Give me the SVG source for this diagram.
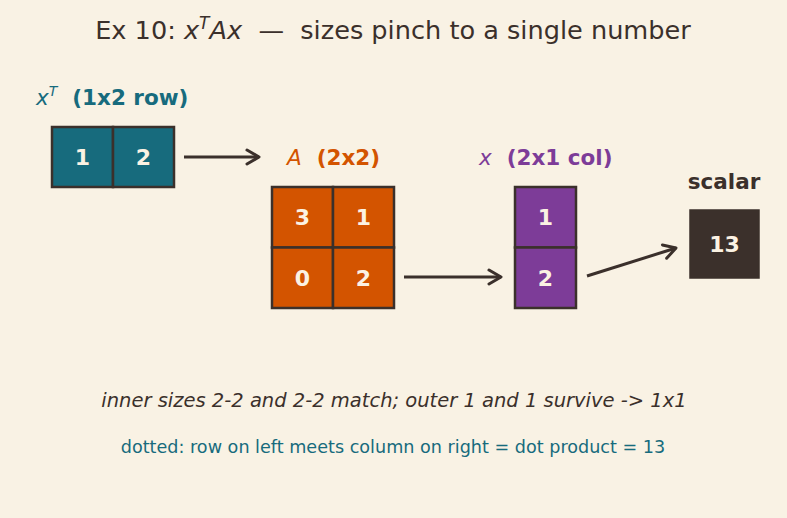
<svg xmlns="http://www.w3.org/2000/svg" width="787" height="518" viewBox="0 0 787 518">
<defs>
<style>
text{font-family:"DejaVu Sans","Noto Sans",sans-serif;white-space:pre}
.cell{stroke:#3b302b;stroke-width:2.5}
.num{fill:#fbf2e3;font-weight:bold;font-size:22px;text-anchor:middle}
.conn{stroke:#3b302b;stroke-width:3;fill:none;marker-end:url(#ah)}
.lbl{font-size:21.5px;font-weight:bold}
.it{font-style:italic;font-weight:normal}
</style>
<marker id="ah" viewBox="0 0 16 18" refX="14" refY="9" markerWidth="16" markerHeight="18" orient="auto" markerUnits="userSpaceOnUse">
<path d="M2,2 L14,9 L2,16" fill="none" stroke="#3b302b" stroke-width="3" stroke-linecap="round" stroke-linejoin="round"/>
</marker>
</defs>
<rect width="787" height="518" fill="#f9f2e4"/>
<text x="393" y="39" font-size="25.6" fill="#3b302b" text-anchor="middle" xml:space="preserve">Ex 10: <tspan font-style="italic">x</tspan><tspan font-style="italic" font-size="17" dy="-10">T</tspan><tspan font-style="italic" dy="10">Ax</tspan>  —  sizes pinch to a single number</text>
<g id="xT">
<text x="36" y="105" class="lbl" fill="#176b7d" xml:space="preserve"><tspan class="it">x</tspan><tspan class="it" font-size="14" dy="-9">T</tspan><tspan dy="9">  (1x2 row)</tspan></text>
<rect x="52" y="127" width="61" height="60" fill="#176b7d" class="cell"/>
<rect x="113" y="127" width="61" height="60" fill="#176b7d" class="cell"/>
<text x="82.5" y="165" class="num">1</text>
<text x="143.5" y="165" class="num">2</text>
</g>
<g id="A">
<text x="287" y="165" class="lbl" fill="#d35400" xml:space="preserve"><tspan class="it">A</tspan>  (2x2)</text>
<rect x="272" y="187" width="61" height="60.5" fill="#d35400" class="cell"/>
<rect x="333" y="187" width="61" height="60.5" fill="#d35400" class="cell"/>
<rect x="272" y="247.5" width="61" height="60.5" fill="#d35400" class="cell"/>
<rect x="333" y="247.5" width="61" height="60.5" fill="#d35400" class="cell"/>
<text x="302.5" y="225" class="num">3</text>
<text x="363.5" y="225" class="num">1</text>
<text x="302.5" y="286" class="num">0</text>
<text x="363.5" y="286" class="num">2</text>
</g>
<g id="x">
<text x="479" y="165" class="lbl" fill="#7d3c98" xml:space="preserve"><tspan class="it">x</tspan>  (2x1 col)</text>
<rect x="515" y="187" width="61" height="60.5" fill="#7d3c98" class="cell"/>
<rect x="515" y="247.5" width="61" height="60.5" fill="#7d3c98" class="cell"/>
<text x="545.5" y="225" class="num">1</text>
<text x="545.5" y="286" class="num">2</text>
</g>
<g id="scalar">
<text x="724" y="189" class="lbl" fill="#3b302b" text-anchor="middle">scalar</text>
<rect x="690" y="210" width="69" height="68" fill="#3b302b" stroke="#3b302b" stroke-width="1.5"/>
<text x="724.5" y="252" class="num">13</text>
</g>
<g id="connectors">
<line x1="184" y1="157" x2="259" y2="157" class="conn"/>
<line x1="404" y1="277" x2="501" y2="277" class="conn"/>
<line x1="587" y1="276" x2="676" y2="248" class="conn"/>
</g>
<text x="394" y="407" font-size="19.5" font-style="italic" fill="#3b302b" text-anchor="middle">inner sizes 2-2 and 2-2 match; outer 1 and 1 survive -&gt; 1x1</text>
<text x="393" y="453" font-size="17.6" fill="#176b7d" text-anchor="middle">dotted: row on left meets column on right = dot product = 13</text>
</svg>
